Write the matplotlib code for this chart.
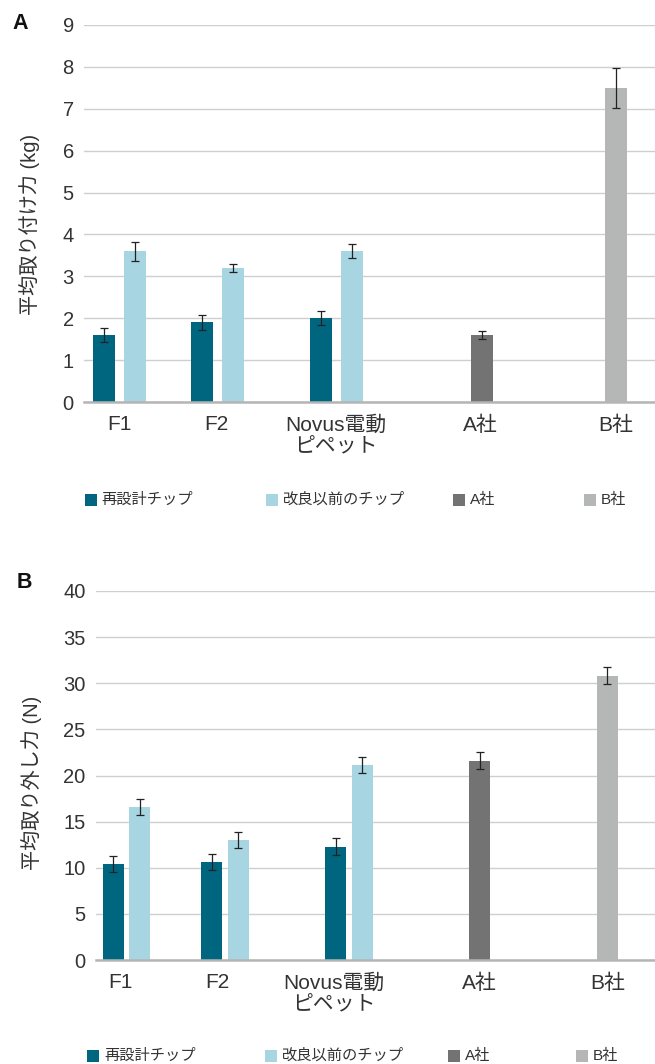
import matplotlib
matplotlib.use("Agg")
import matplotlib.pyplot as plt
from matplotlib.patches import Rectangle

plt.rcParams['font.family'] = ['Liberation Sans', 'Noto Sans CJK JP', 'DejaVu Sans']

# ---------------- data ----------------
categories = ["F1", "F2", "Novus電動\nピペット", "A社", "B社"]
series_names = ["再設計チップ", "改良以前のチップ", "A社", "B社"]
colors = ["#006680", "#A7D5E1", "#737373", "#B5B6B6"]

# Panel A: mean attachment force (kg)
a_redesigned = [1.6, 1.9, 2.0]
a_redesigned_err = [0.16, 0.17, 0.17]
a_previous = [3.6, 3.2, 3.6]
a_previous_err = [0.23, 0.10, 0.16]
a_compA = 1.6
a_compA_err = 0.10
a_compB = 7.5
a_compB_err = 0.47

# Panel B: mean removal force (N)
b_redesigned = [10.4, 10.6, 12.3]
b_redesigned_err = [0.9, 0.87, 0.88]
b_previous = [16.6, 13.0, 21.1]
b_previous_err = [0.9, 0.9, 0.88]
b_compA = 21.6
b_compA_err = 0.9
b_compB = 30.8
b_compB_err = 0.92

W, H = 655, 1064
fig = plt.figure(figsize=(W / 100, H / 100), dpi=100)

txt_col = "#333333"
grid_col = "#cfcfcf"


def make_panel(rect_px, xlim, pair_centers, offset, single_centers, bw,
               red, red_err, prev, prev_err, ca, ca_err, cb, cb_err,
               ylim, yticks, ylabel, tick_pos, label_coords, ypad):
    l, t, r, b = rect_px
    ax = fig.add_axes([l / W, 1 - b / H, (r - l) / W, (b - t) / H])
    ax.set_xlim(*xlim)
    ax.set_ylim(*ylim)
    ax.set_yticks(yticks)
    ax.yaxis.grid(True, color=grid_col, lw=1.0)
    ax.set_axisbelow(True)
    for s in ["top", "right", "left"]:
        ax.spines[s].set_visible(False)
    ax.spines["bottom"].set_color("#b5b5b5")
    ax.spines["bottom"].set_linewidth(1.8)
    ekw = dict(ecolor="#222222", elinewidth=0.9, capsize=3, capthick=0.9)
    xs_red = [c - offset for c in pair_centers]
    xs_prev = [c + offset for c in pair_centers]
    ax.bar(xs_red, red, width=bw, color=colors[0], yerr=red_err, error_kw=ekw, zorder=2)
    ax.bar(xs_prev, prev, width=bw, color=colors[1], yerr=prev_err, error_kw=ekw, zorder=2)
    ax.bar([single_centers[0]], [ca], width=bw, color=colors[2], yerr=[ca_err], error_kw=ekw, zorder=2)
    ax.bar([single_centers[1]], [cb], width=bw, color=colors[3], yerr=[cb_err], error_kw=ekw, zorder=2)
    ax.set_xticks(tick_pos)
    ax.set_xticklabels(categories, fontsize=15, color=txt_col, linespacing=1.22)
    ax.tick_params(axis="x", length=0, pad=9.5)
    ax.tick_params(axis="y", length=0, pad=ypad, labelsize=14.5, labelcolor=txt_col)
    ax.set_ylabel(ylabel, fontsize=14.5, color=txt_col)
    ax.yaxis.set_label_coords(*label_coords)
    return ax


# Panel A
make_panel((83.5, 25, 655, 402), (83.5, 655), [119.6, 217.4, 336.5], 15.5, [482, 616], 21.7,
           a_redesigned, a_redesigned_err, a_previous, a_previous_err,
           a_compA, a_compA_err, a_compB, a_compB_err,
           (0, 9), range(0, 10), "平均取り付け力 (kg)",
           [119.5, 216.5, 335.5, 480, 615.5], (-0.0766, 0.47), 7)

# Panel B
make_panel((96, 591, 655, 960), (96, 655), [126.5, 225, 349], 13.2, [479.5, 607.4], 20.9,
           b_redesigned, b_redesigned_err, b_previous, b_previous_err,
           b_compA, b_compA_err, b_compB, b_compB_err,
           (0, 40), range(0, 41, 5), "平均取り外し力 (N)",
           [120, 217, 334, 479, 608], (-0.0966, 0.48), 7.5)

# panel letters
fig.text(12.5 / W, 1 - 23.5 / H, "A", fontsize=15.5, fontweight="bold", va="center", ha="left", color="#111111")
fig.text(16.5 / W, 1 - 583 / H, "B", fontsize=15.5, fontweight="bold", va="center", ha="left", color="#111111")


# legends (manual, one row each)
def legend_row(y_px, xs_px):
    for name, col, x in zip(series_names, colors, xs_px):
        fig.add_artist(Rectangle((x / W, 1 - (y_px + 6) / H), 12 / W, 12 / H,
                                 transform=fig.transFigure, color=col, lw=0))
        fig.text((x + 17) / W, 1 - y_px / H, name, fontsize=11, color=txt_col,
                 va="center", ha="left")


legend_row(500, [84.8, 266, 453.2, 583.5])
legend_row(1056, [86.9, 265.2, 447.8, 575.6])

fig.savefig("out.png", dpi=100)
